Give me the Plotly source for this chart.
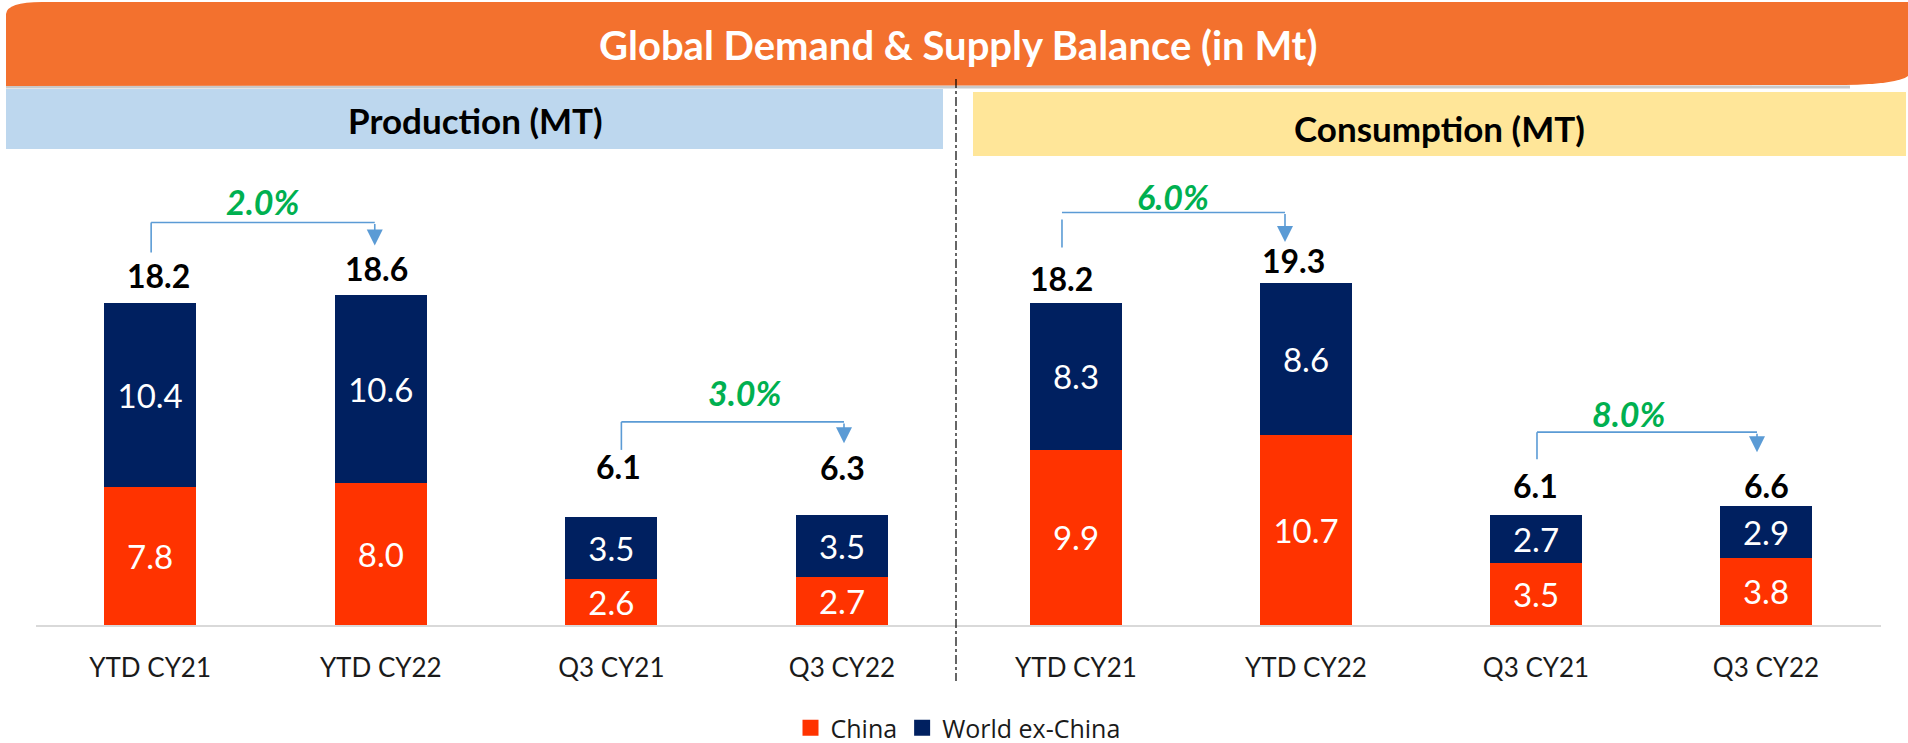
import plotly.graph_objects as go

# ---------------- data ----------------
categories = ["YTD CY21", "YTD CY22", "Q3 CY21", "Q3 CY22"]
series_names = ["China", "World ex-China"]

prod_china = [7.8, 8.0, 2.6, 2.7]
prod_world = [10.4, 10.6, 3.5, 3.5]
prod_total = [18.2, 18.6, 6.1, 6.3]

cons_china = [9.9, 10.7, 3.5, 3.8]
cons_world = [8.3, 8.6, 2.7, 2.9]
cons_total = [18.2, 19.3, 6.1, 6.6]

prod_growth = ["2.0%", "3.0%"]
cons_growth = ["6.0%", "8.0%"]

title_text = "Global Demand & Supply Balance (in Mt)"
panel_titles = ["Production (MT)", "Consumption (MT)"]

# ---------------- style / layout constants ----------------
W, H = 1908, 743
FONT = "Lato, 'Open Sans', sans-serif"
C_CHINA = "#FF3300"
C_WORLD = "#002060"
C_GREEN = "#00B050"
C_ARROW = "#5B9BD5"
C_ORANGE = "#F3712E"
C_BLUE_BOX = "#BDD7EE"
C_YEL_BOX = "#FFE699"

BASE_PX = 625          # pixel row of the baseline
PXU = 17.72            # pixels per Mt
Y_TOP = BASE_PX / PXU
Y_DOM = [1 - BASE_PX / H, 1.0]

X_DOM_PX = [(36, 955), (955, 1881)]
X_RANGE = [(-0.495, 3.49), (-0.526, 3.5)]
CAT_PX = [(d[1] - d[0]) / (r[1] - r[0]) for d, r in zip(X_DOM_PX, X_RANGE)]
BAR_W = 0.399


def px(x):
    return x / W


def py(y):
    return 1 - y / H


fig = go.Figure()

panels = [
    (prod_china, prod_world, prod_total, prod_growth, "x", "y"),
    (cons_china, cons_world, cons_total, cons_growth, "x2", "y2"),
]
colors = [C_CHINA, C_WORLD]

for k, (china, world, total, growth, xa, ya) in enumerate(panels):
    for name, vals, col in [(series_names[0], china, C_CHINA), (series_names[1], world, C_WORLD)]:
        fig.add_trace(go.Bar(
            x=categories, y=vals, name=name, marker_color=col, marker_line_width=0,
            width=BAR_W, text=[f"{v:.1f}" for v in vals], textposition="inside",
            insidetextanchor="middle", textangle=0,
            textfont=dict(family=FONT, size=33, color="white"),
            xaxis=xa, yaxis=ya, legendgroup=name, showlegend=False,
            hoverinfo="skip",
        ))

# legend entries (square markers, larger than the default bar swatch)
for name, col in zip(series_names, colors):
    fig.add_trace(go.Scatter(
        x=[None], y=[None], mode="markers", name=name, legendgroup=name,
        marker=dict(symbol="square", size=16, color=col), showlegend=True,
        xaxis="x", yaxis="y", hoverinfo="skip",
    ))

# axes
tickfont = dict(family=FONT, size=26, color="#1a1a1a")
fig.update_layout(
    xaxis=dict(domain=[px(X_DOM_PX[0][0]), px(X_DOM_PX[0][1])], range=list(X_RANGE[0]),
               showline=True, linecolor="#D9D9D9", linewidth=2, showgrid=False,
               zeroline=False, ticks="", ticklabelstandoff=19, fixedrange=True,
               tickfont=tickfont, anchor="y"),
    yaxis=dict(domain=Y_DOM, range=[0, Y_TOP], visible=False, anchor="x", fixedrange=True),
    xaxis2=dict(domain=[px(X_DOM_PX[1][0]), px(X_DOM_PX[1][1])], range=list(X_RANGE[1]),
                showline=True, linecolor="#D9D9D9", linewidth=2, showgrid=False,
                zeroline=False, ticks="", ticklabelstandoff=19, fixedrange=True,
                tickfont=tickfont, anchor="y2"),
    yaxis2=dict(domain=Y_DOM, range=[0, Y_TOP], visible=False, anchor="x2", fixedrange=True),
)

shapes = []
annotations = []

# banner
path = f"M {px(6)},{py(86)} L {px(6)},{py(14)} Q {px(7)},{py(2)} {px(42)},{py(2)} " \
       f"L {px(W)},{py(2)} L {px(W)},{py(76)} Q {px(1898)},{py(84)} {px(1845)},{py(85)} Z"
shapes.append(dict(type="line", xref="paper", yref="paper", x0=px(6), x1=px(1850),
                   y0=py(87), y1=py(87), line=dict(color="#C9C9C9", width=3), layer="above"))
shapes.append(dict(type="path", path=path, xref="paper", yref="paper",
                   fillcolor=C_ORANGE, line=dict(width=0), layer="above"))
# panel header boxes
shapes.append(dict(type="rect", xref="paper", yref="paper", x0=px(6), x1=px(943),
                   y0=py(149), y1=py(89), fillcolor=C_BLUE_BOX, line=dict(width=0), layer="below"))
shapes.append(dict(type="rect", xref="paper", yref="paper", x0=px(973), x1=px(1906),
                   y0=py(156), y1=py(92), fillcolor=C_YEL_BOX, line=dict(width=0), layer="below"))
# divider
shapes.append(dict(type="line", xref="paper", yref="paper", x0=px(956), x1=px(956),
                   y0=py(79), y1=py(681), line=dict(color="#000000", width=1.2, dash="dashdot"),
                   layer="above"))

annotations.append(dict(text=f"<b>{title_text}</b>", xref="paper", yref="paper",
                        x=px(958), y=py(45), showarrow=False, xanchor="center", yanchor="middle",
                        font=dict(family=FONT, size=40, color="white")))
annotations.append(dict(text=f"<b>{panel_titles[0]}</b>", xref="paper", yref="paper",
                        x=px(475), y=py(120), showarrow=False, xanchor="center", yanchor="middle",
                        font=dict(family=FONT, size=35, color="black")))
annotations.append(dict(text=f"<b>{panel_titles[1]}</b>", xref="paper", yref="paper",
                        x=px(1439), y=py(128), showarrow=False, xanchor="center", yanchor="middle",
                        font=dict(family=FONT, size=35, color="black")))

# total labels: (dx px, dy px above stack top)
total_offsets = [
    [(8, 27), (-4, 27), (7, 50), (0, 48)],
    [(-14, 24), (-12, 23), (0, 30), (0, 21)],
]
# connectors: (i, j, dx_i, dx_j, start_up, vtop_up, top_up, tip_up, label_dx, label_up)
connectors = [
    [(0, 1, 1, -6, 50, 80, 80, 50, 0, 21), (2, 3, 10, 2, 67, 95, 95, 72, 12, 29)],
    [(0, 1, -14, -21, 55, 83, 90, 41, 0, 16), (2, 3, 1, -9, 56, 83, 83, 54, -18, 19)],
]

for k, (china, world, total, growth, xa, ya) in enumerate(panels):
    stack = [c + w for c, w in zip(china, world)]
    cp = CAT_PX[k]
    for i, cat in enumerate(categories):
        dx, dy = total_offsets[k][i]
        annotations.append(dict(text=f"<b>{total[i]:.1f}</b>", x=i + dx / cp, y=stack[i],
                                xref=xa, yref=ya, yshift=dy, showarrow=False,
                                xanchor="center", yanchor="middle",
                                font=dict(family=FONT, size=32, color="black")))
    for n, (i, j, dxi, dxj, s_up, v_up, t_up, tip_up, ldx, lup) in enumerate(connectors[k]):
        xi = i + dxi / cp
        xj = j + dxj / cp
        y_start = stack[i] + s_up / PXU
        y_vtop = stack[i] + v_up / PXU
        y_top = stack[i] + t_up / PXU
        y_tip = stack[j] + tip_up / PXU
        shapes.append(dict(type="line", xref=xa, yref=ya, x0=xi, x1=xi, y0=y_start, y1=y_vtop,
                           line=dict(color=C_ARROW, width=1.6), layer="above"))
        shapes.append(dict(type="line", xref=xa, yref=ya, x0=xi, x1=xj, y0=y_top, y1=y_top,
                           line=dict(color=C_ARROW, width=1.6), layer="above"))
        annotations.append(dict(text="", x=xj, y=y_tip, xref=xa, yref=ya,
                                ax=xj, ay=y_top, axref=xa, ayref=ya, showarrow=True,
                                arrowhead=2, arrowsize=2.0, arrowwidth=1.6, arrowcolor=C_ARROW,
                                standoff=0, startstandoff=0))
        annotations.append(dict(text=f"<b><i>{growth[n]}</i></b>", x=(xi + xj) / 2 + ldx / cp,
                                y=y_top, yshift=lup, xref=xa, yref=ya, showarrow=False,
                                xanchor="center", yanchor="middle",
                                font=dict(family=FONT, size=34, color=C_GREEN)))

fig.update_layout(
    width=W, height=H, margin=dict(l=0, r=0, t=0, b=0, autoexpand=False),
    paper_bgcolor="white", plot_bgcolor="rgba(0,0,0,0)",
    barmode="stack", bargap=0.6,
    shapes=shapes, annotations=annotations,
    showlegend=True,
    legend=dict(orientation="h", x=px(958), xanchor="center", y=py(728), yanchor="middle",
                font=dict(family="'Open Sans', sans-serif", size=25, color="#1a1a1a"),
                itemwidth=30, tracegroupgap=0, bgcolor="rgba(0,0,0,0)"),
    font=dict(family=FONT),
)

fig.write_html("out.html", config={"displayModeBar": False},
               post_script="document.body.style.margin='0px';")
